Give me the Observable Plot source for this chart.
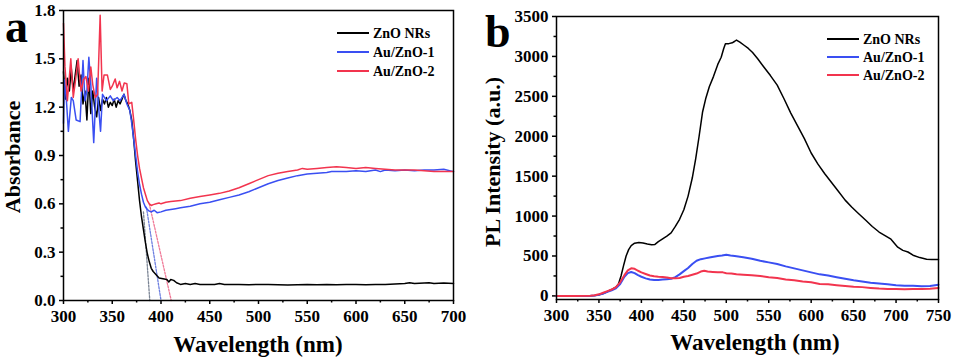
<!DOCTYPE html>
<html><head><meta charset="utf-8">
<script src="https://cdn.jsdelivr.net/npm/d3@7"></script>
<script src="https://cdn.jsdelivr.net/npm/@observablehq/plot@0.6"></script>
<style>
html,body{margin:0;padding:0;background:#fff;}
#wrap{display:flex;width:953px;height:361px;overflow:hidden;background:#fff;}
</style></head><body><div id="wrap"></div>
<script>
// ---------- shared ----------
const seriesNames = ["ZnO NRs", "Au/ZnO-1", "Au/ZnO-2"];
const seriesColors = ["#000000", "#3a4ff2", "#f2344e"];
const tangentColors = ["#7a8494", "#6d7fe0", "#f07a98"];

// ---------- panel a: absorbance ----------
const absXTicks = [300, 350, 400, 450, 500, 550, 600, 650, 700];
const absXMinor = [325, 375, 425, 475, 525, 575, 625, 675];
const absYTicks = [0, 0.3, 0.6, 0.9, 1.2, 1.5, 1.8];
const absYMinor = [0.15, 0.45, 0.75, 1.05, 1.35, 1.65];

const absZnO_x = [300,302,304,306,308,310,312,314,316,318,320,322,324,326,328,330,332,334,336,338,340,342,344,346,348,350,352,354,356,358,360,362,364,366,368,370,372,374,376,378,380,382,384,386,388,390,392,395,398,402,406,408,410,413,416,420,425,430,435,440,445,450,455,460,465,470,480,490,500,510,520,530,540,550,560,570,580,590,600,610,620,630,640,650,655,660,670,675,680,690,700];
const absZnO_y = [1.42,1.25,1.38,1.30,1.44,1.30,1.40,1.49,1.33,1.40,1.22,1.30,1.12,1.38,1.16,1.30,1.20,1.14,1.26,1.18,1.25,1.22,1.26,1.20,1.23,1.21,1.25,1.20,1.24,1.22,1.25,1.28,1.24,1.22,1.18,1.12,1.00,0.86,0.74,0.62,0.52,0.44,0.36,0.29,0.24,0.20,0.18,0.16,0.14,0.135,0.13,0.115,0.13,0.125,0.11,0.10,0.105,0.10,0.105,0.10,0.10,0.10,0.10,0.105,0.10,0.10,0.10,0.098,0.10,0.10,0.098,0.096,0.098,0.10,0.098,0.10,0.098,0.10,0.10,0.098,0.10,0.10,0.102,0.105,0.11,0.105,0.108,0.11,0.105,0.108,0.105];

const absAu1_x = [300,301,303,305,308,310,313,317,320,322,324,326,328,331,334,336,338,340,344,348,351,355,358,362,365,368,370,372,374,376,378,380,382,384,386,388,390,393,396,400,405,410,415,420,430,440,450,460,470,480,490,500,510,520,530,540,550,560,570,575,580,590,600,610,620,625,630,640,650,660,670,680,690,700];
const absAu1_y = [1.10,1.37,1.24,1.05,1.26,1.24,1.12,1.11,1.49,1.24,1.30,1.51,1.34,0.98,1.38,1.20,1.05,1.28,1.24,1.27,1.24,1.26,1.24,1.28,1.22,1.18,1.10,1.00,0.90,0.80,0.72,0.66,0.61,0.58,0.565,0.555,0.55,0.56,0.545,0.55,0.56,0.565,0.57,0.575,0.585,0.60,0.61,0.625,0.64,0.655,0.675,0.70,0.725,0.745,0.76,0.775,0.785,0.79,0.795,0.80,0.80,0.80,0.805,0.80,0.81,0.80,0.81,0.805,0.81,0.805,0.81,0.81,0.815,0.80];

const absAu2_x = [300,301.5,304,307.5,310,312,315,318,320.5,323,325.5,328,330,332.5,335,337.6,339.6,341.6,345,348,350,353,355,357.5,360,362.3,365,367,370,372,374,376,378,380,382,384,386,388,390,392,395,398,400,405,410,420,430,440,450,460,470,480,490,500,510,520,530,540,545,550,560,570,580,590,600,610,620,630,640,650,660,670,680,690,700];
const absAu2_y = [1.72,1.45,1.24,1.50,1.26,1.35,1.50,1.30,1.37,1.39,1.30,1.45,1.34,1.26,1.28,1.77,1.30,1.40,1.40,1.31,1.33,1.375,1.32,1.36,1.30,1.35,1.345,1.22,1.23,1.12,1.00,0.90,0.82,0.76,0.70,0.66,0.62,0.60,0.59,0.595,0.60,0.605,0.60,0.61,0.615,0.62,0.635,0.645,0.655,0.665,0.68,0.70,0.725,0.75,0.775,0.79,0.80,0.81,0.82,0.815,0.82,0.825,0.83,0.825,0.82,0.825,0.82,0.815,0.81,0.81,0.81,0.805,0.80,0.80,0.80];

// tangent (onset) lines: start point and x-intercept
const tangentX0 = [382, 385, 388];
const tangentY0 = [0.55, 0.58, 0.60];
const tangentX1 = [388.5, 400, 410.5];

// ---------- panel b: PL ----------
const plXTicks = [300, 350, 400, 450, 500, 550, 600, 650, 700, 750];
const plXMinor = [325, 375, 425, 475, 525, 575, 625, 675, 725];
const plYTicks = [0, 500, 1000, 1500, 2000, 2500, 3000, 3500];
const plYMinor = [250, 750, 1250, 1750, 2250, 2750, 3250];

const plZnO_x = [300,320,340,345,350,355,360,365,370,373,376,379,382,385,388,392,397,402,407,412,416,420,425,430,435,440,445,450,455,460,464,468,472,476,480,485,490,494,497,499,503,507,510,512,516,521,526,531,537,544,552,560,568,576,584,592,600,608,616,624,632,640,648,656,664,672,680,688,694,698,702,708,714,720,728,736,742,750];
const plZnO_y = [0,0,2,5,15,30,55,80,110,150,250,380,500,580,630,660,670,662,650,640,645,680,715,750,790,870,960,1080,1250,1480,1720,2000,2300,2480,2620,2750,2900,2990,3100,3160,3160,3170,3190,3205,3180,3140,3100,3050,2970,2870,2760,2640,2470,2290,2130,1970,1790,1650,1530,1420,1310,1200,1110,1030,950,870,800,750,710,660,610,570,550,510,480,460,455,455];

const plAu1_x = [300,320,340,345,350,355,360,365,370,375,380,384,388,392,396,400,405,410,415,420,425,430,435,440,445,450,455,460,465,470,475,480,485,490,495,500,505,510,520,530,540,550,560,570,580,590,600,610,620,630,640,650,660,670,680,690,700,710,720,730,740,750];
const plAu1_y = [0,0,2,5,15,30,50,70,95,150,240,285,300,285,260,240,220,205,200,200,205,210,215,235,270,310,350,400,440,460,470,480,490,500,505,515,505,500,485,465,440,420,400,370,345,320,295,270,255,235,215,195,180,165,155,145,135,128,128,122,125,140];

const plAu2_x = [300,320,340,345,350,355,360,365,370,375,380,384,388,392,396,400,405,410,415,420,425,430,435,440,445,450,455,460,465,470,474,478,484,490,496,500,506,512,520,530,540,550,560,570,580,590,600,610,620,630,640,650,660,670,680,690,700,710,720,730,740,750];
const plAu2_y = [0,0,3,8,20,40,60,80,110,170,260,320,345,340,315,295,275,255,245,240,238,230,220,220,225,240,250,265,280,305,315,305,300,295,295,285,280,270,265,260,250,235,225,205,195,180,170,150,145,135,125,115,110,100,92,88,85,82,85,85,90,100];

// ---------- helpers ----------
const zip = (xs, ys, name) => xs.map((x, i) => ({x, y: ys[i], name}));
const fontStyle = {
  fontFamily: "'Liberation Serif', 'Times New Roman', serif",
  fontSize: "17px",
  fontWeight: "bold",
  background: "#fff",
  color: "#000",
  overflow: "visible"
};

function axes(xt, xm, yt, ym, yfmt) {
  return [
    Plot.axisX({ticks: xt, tickSize: 4, tickPadding: 5, tickFormat: d => String(d), label: null, strokeWidth: 1.5}),
    Plot.axisX({ticks: xm, tickSize: 2.5, tickFormat: () => "", label: null, strokeWidth: 1.5}),
    Plot.axisY({ticks: yt, tickSize: 4, tickPadding: 4, tickFormat: yfmt, label: null, strokeWidth: 1.5}),
    Plot.axisY({ticks: ym, tickSize: 2.5, tickFormat: () => "", label: null, strokeWidth: 1.5})
  ];
}

function decorate(svg, o) {
  const s = d3.select(svg);
  s.append("text").attr("x", o.letterX).attr("y", o.letterY).attr("text-anchor", "start")
    .attr("font-size", 46).attr("font-weight", "bold").text(o.letter);
  s.append("text").attr("transform", `translate(${o.ylabX},${o.ylabY}) rotate(-90)`).attr("text-anchor", "middle")
    .attr("font-size", 22).attr("font-weight", "bold").text(o.ylabel);
  s.append("text").attr("x", o.xlabX).attr("y", o.xlabY).attr("text-anchor", "middle")
    .attr("font-size", 23).attr("font-weight", "bold").text(o.xlabel);
  seriesNames.forEach((n, i) => {
    const y = o.legY + i * o.legDy;
    s.append("line").attr("x1", o.legX).attr("x2", o.legX + 32).attr("y1", y).attr("y2", y)
      .attr("stroke", seriesColors[i]).attr("stroke-width", 2);
    s.append("text").attr("x", o.legX + 36).attr("y", y + 5).attr("text-anchor", "start")
      .attr("font-size", 14).attr("font-weight", "bold").text(n);
  });
}

// ---------- panel a ----------
const absData = [
  ...zip(absZnO_x, absZnO_y, seriesNames[0]),
  ...zip(absAu1_x, absAu1_y, seriesNames[1]),
  ...zip(absAu2_x, absAu2_y, seriesNames[2])
];
const tanData = [];
tangentX0.forEach((x0, i) => {
  tanData.push({x: x0, y: tangentY0[i], name: seriesNames[i]});
  tanData.push({x: tangentX1[i], y: 0, name: seriesNames[i]});
});

const plotA = Plot.plot({
  width: 476, height: 361,
  marginLeft: 63, marginRight: 23, marginTop: 10, marginBottom: 61,
  x: {domain: [300, 700]},
  y: {domain: [0, 1.8]},
  style: fontStyle,
  marks: [
    ...axes(absXTicks, absXMinor, absYTicks, absYMinor, d => d.toFixed(1)),
    Plot.line(tanData, {x: "x", y: "y", z: "name", stroke: d => tangentColors[seriesNames.indexOf(d.name)], strokeWidth: 1.3, strokeDasharray: "2,1.5"}),
    Plot.line(absData, {x: "x", y: "y", z: "name", stroke: d => seriesColors[seriesNames.indexOf(d.name)], strokeWidth: 1.5}),
    Plot.frame({stroke: "#000", strokeWidth: 1.5})
  ]
});
decorate(plotA, {letter: "a", letterX: 5, letterY: 42, ylabel: "Absorbance", ylabX: 20, ylabY: 157,
  xlabel: "Wavelength (nm)", xlabX: 258, xlabY: 352, legX: 337, legY: 33, legDy: 19});

// ---------- panel b ----------
const plData = [
  ...zip(plZnO_x, plZnO_y, seriesNames[0]),
  ...zip(plAu1_x, plAu1_y, seriesNames[1]),
  ...zip(plAu2_x, plAu2_y, seriesNames[2])
];
const plotB = Plot.plot({
  width: 477, height: 361,
  marginLeft: 80, marginRight: 15, marginTop: 16, marginBottom: 62,
  x: {domain: [300, 750]},
  y: {domain: [-45, 3500]},
  style: fontStyle,
  marks: [
    ...axes(plXTicks, plXMinor, plYTicks, plYMinor, d => String(d)),
    Plot.line(plData, {x: "x", y: "y", z: "name", stroke: d => seriesColors[seriesNames.indexOf(d.name)],
      strokeWidth: d => d.name === seriesNames[0] ? 1.5 : 2}),
    Plot.frame({stroke: "#000", strokeWidth: 1.5})
  ]
});
decorate(plotB, {letter: "b", letterX: 9, letterY: 47, ylabel: "PL Intensity (a.u.)", ylabX: 24, ylabY: 162,
  xlabel: "Wavelength (nm)", xlabX: 279, xlabY: 350, legX: 351, legY: 39, legDy: 18});

document.getElementById("wrap").append(plotA, plotB);
</script>
</body></html>
